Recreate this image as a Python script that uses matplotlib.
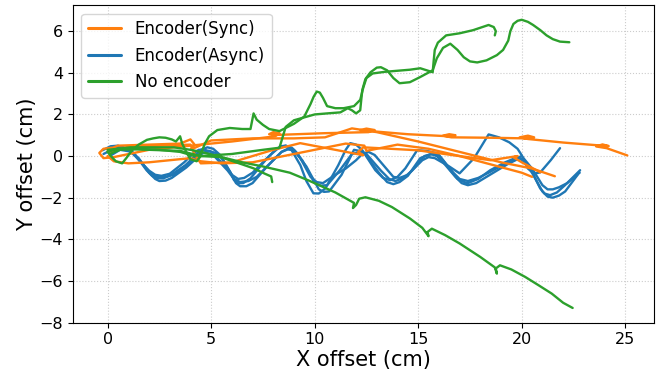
import numpy as np
import matplotlib.pyplot as plt

# trajectories, (x, y) in cm
sync_1 = [(0.2, 0.4), (-0.2, 0.35), (-0.4, 0.15), (-0.2, -0.1), (0.3, -0.05), (2.0, 0.3), (4.0, 0.5),
          (6.0, 0.7), (8.1, 0.95), (8.3, 1.1), (8.0, 1.15), (7.8, 1.05), (8.3, 1.02), (10.5, 1.1),
          (12.6, 1.15), (12.9, 1.25), (12.5, 1.32), (12.2, 1.25), (12.7, 1.2), (14.5, 1.05),
          (16.5, 0.95), (16.8, 1.0), (16.5, 1.05), (16.2, 0.98), (16.6, 0.9), (18.5, 0.88),
          (20.2, 0.85), (20.6, 0.9), (20.3, 0.98), (19.9, 0.9), (20.3, 0.82), (22.0, 0.65),
          (23.9, 0.5), (24.2, 0.48), (23.9, 0.56), (23.6, 0.46), (24.1, 0.38), (25.1, 0.03)]
sync_2 = [(0.0, 0.3), (0.5, 0.5), (2.0, 0.55), (3.5, 0.6), (4.0, 0.8), (4.2, 0.55), (4.0, 0.3),
          (5.0, 0.75), (7.0, 0.85), (9.0, 0.85), (10.5, 0.9), (11.8, 1.33), (13.0, 1.15),
          (15.0, 0.7), (17.0, 0.2), (19.0, -0.3), (20.5, -0.6), (21.6, -0.97)]
sync_3 = [(0.0, 0.0), (0.3, -0.25), (1.0, -0.35), (2.0, -0.3), (3.0, -0.2), (4.0, -0.1), (4.5, -0.25),
          (5.5, -0.35), (7.0, -0.3), (8.5, 0.0), (10.0, 0.3), (11.5, 0.6), (12.4, 0.5),
          (12.5, 0.25), (14.0, 0.55), (15.5, 0.35), (17.0, 0.0), (18.5, -0.4), (20.0, -0.8),
          (20.5, -1.0)]
sync_4 = [(0.1, 0.2), (1.0, 0.45), (2.5, 0.5), (4.0, 0.55), (4.2, 0.1), (4.5, -0.35), (6.0, -0.3),
          (8.0, 0.3), (9.3, 0.62), (11.0, 0.3), (12.35, 0.04), (12.1, 0.2), (12.35, 0.42),
          (14.95, 0.28), (17.0, 0.0), (18.5, -0.2), (19.8, 0.0), (19.6, -0.06), (20.0, -0.3),
          (20.9, -0.78)]

async_1 = [(-0.24, 0.28), (0.14, 0.47), (0.5, 0.5), (0.77, 0.42), (1.1, 0.25), (1.35, 0.04),
           (1.88, -0.68), (2.15, -0.95), (2.41, -1.07), (2.7, -1.07), (3.04, -0.92), (3.76, -0.44),
           (4.15, -0.06), (4.5, 0.3), (4.82, 0.42), (5.1, 0.35), (5.45, 0.04), (5.93, -0.78),
           (6.1, -1.15), (6.27, -1.31), (6.55, -1.3), (6.9, -1.07), (7.62, -0.2), (8.0, 0.2),
           (8.35, 0.47), (8.6, 0.5), (8.83, 0.38), (9.31, -0.44), (9.6, -1.2), (9.94, -1.79),
           (10.2, -1.8), (10.52, -1.55), (11.14, -0.44), (11.5, 0.3), (11.72, 0.62), (12.0, 0.55),
           (12.3, 0.28), (12.93, -0.68), (13.3, -1.05), (13.65, -1.16), (14.0, -1.0),
           (14.38, -0.59), (14.95, 0.28), (15.4, 0.25), (15.92, 0.13), (16.2, -0.2),
           (16.55, -0.68), (16.9, -1.1), (17.37, -1.31), (17.9, -1.1), (18.48, -0.68),
           (19.2, -0.3), (19.78, -0.06), (20.1, -0.2), (20.41, -0.59), (20.89, -1.55),
           (21.1, -1.8), (21.37, -1.88), (21.7, -1.75), (22.09, -1.4), (22.82, -0.68)]
async_2 = [(-0.2, 0.1), (0.3, 0.35), (0.6, 0.4), (0.9, 0.35), (1.5, -0.1), (2.0, -0.8), (2.3, -1.1),
           (2.5, -1.2), (2.8, -1.18), (3.1, -1.05), (3.8, -0.55), (4.3, -0.1), (4.6, 0.15),
           (4.9, 0.25), (5.2, 0.15), (5.5, -0.1), (6.0, -0.9), (6.2, -1.3), (6.4, -1.45),
           (6.7, -1.45), (7.0, -1.3), (7.7, -0.5), (8.4, 0.2), (8.7, 0.32), (9.0, 0.3), (9.6, -0.5),
           (10.2, -1.6), (10.45, -1.72), (10.7, -1.7), (11.3, -0.9), (11.9, 0.3), (12.15, 0.25),
           (12.4, 0.15), (13.1, -0.8), (13.5, -1.25), (13.8, -1.35), (14.1, -1.25), (14.5, -0.95),
           (15.1, -0.1), (15.6, 0.1), (15.9, 0.0), (16.2, -0.3), (16.8, -1.0), (17.1, -1.3),
           (17.4, -1.4), (17.8, -1.3), (18.3, -1.0), (19.3, -0.4), (19.9, -0.1), (20.2, -0.35),
           (20.5, -0.8), (21.0, -1.7), (21.25, -1.95), (21.5, -2.0), (21.8, -1.9), (22.1, -1.7),
           (22.7, -0.9)]
async_3 = [(0.0, 0.2), (0.5, 0.4), (1.1, 0.25), (1.7, -0.4), (2.0, -0.7), (2.3, -0.9), (2.6, -0.95),
           (3.0, -0.85), (3.7, -0.3), (4.1, 0.1), (4.4, 0.3), (4.7, 0.3), (5.0, 0.2), (5.7, -0.5),
           (6.0, -0.9), (6.3, -1.1), (6.6, -1.05), (7.0, -0.8), (7.8, 0.0), (8.2, 0.35), (8.6, 0.5),
           (8.9, 0.4), (9.2, 0.1), (9.8, -1.0), (10.1, -1.25), (10.4, -1.3), (11.0, -0.9),
           (11.5, -0.6), (12.0, -0.2), (12.3, 0.1), (12.6, 0.2), (12.9, 0.05), (13.2, -0.3),
           (13.8, -1.0), (14.1, -1.05), (14.5, -0.9), (15.2, -0.2), (15.5, -0.05), (15.8, -0.1),
           (16.5, -0.5), (17.0, -0.83), (17.7, -0.1), (18.4, 1.04), (18.9, 0.9), (19.4, 0.66),
           (19.8, 0.35), (20.0, 0.04), (20.3, -0.6), (20.6, -0.85), (20.9, -0.78), (21.4, -0.2),
           (21.85, 0.38)]
async_4 = [(0.1, 0.0), (0.6, 0.3), (1.2, 0.2), (1.8, -0.5), (2.1, -0.85), (2.4, -1.0), (2.8, -1.0),
           (3.2, -0.9), (3.9, -0.35), (4.5, 0.15), (4.8, 0.15), (5.1, 0.05), (5.8, -0.7),
           (6.1, -1.1), (6.4, -1.25), (6.8, -1.2), (7.2, -1.0), (8.0, -0.2), (8.4, 0.2), (8.7, 0.35),
           (9.0, 0.25), (9.4, -0.2), (10.0, -1.3), (10.3, -1.42), (10.6, -1.4), (11.2, -0.7),
           (11.8, 0.1), (12.2, 0.2), (12.5, 0.1), (13.2, -0.7), (13.6, -1.1), (13.9, -1.2),
           (14.3, -1.05), (14.7, -0.7), (15.3, 0.0), (15.7, 0.1), (16.0, 0.05), (16.7, -0.8),
           (17.0, -1.1), (17.4, -1.2), (17.9, -1.05), (18.4, -0.8), (19.5, -0.2), (20.0, 0.0),
           (20.5, -0.6), (21.0, -1.4), (21.25, -1.6), (21.5, -1.6), (21.8, -1.5), (22.2, -1.3),
           (22.8, -0.8)]

noenc_1 = [(0.0, 0.2), (0.5, 0.35), (1.1, 0.42), (2.2, 0.42), (3.2, 0.42), (4.0, 0.3), (4.6, 0.18),
           (5.3, 0.0), (5.9, -0.2), (6.5, -0.4), (7.05, -0.59), (7.6, -0.85), (7.9, -0.98),
           (7.95, -1.25)]
noenc_2 = [(0.0, 0.2), (0.2, -0.05), (0.4, -0.25), (0.7, -0.35), (0.9, -0.1), (1.2, 0.3), (1.5, 0.55),
           (1.9, 0.78), (2.2, 0.85), (2.5, 0.9), (2.8, 0.88), (3.1, 0.8), (3.3, 0.7), (3.5, 0.95),
           (3.6, 0.6), (3.7, 0.4), (3.85, 0.1), (4.0, -0.15), (4.3, -0.25), (4.5, 0.0),
           (5.5, -0.05), (6.5, -0.3), (7.5, -0.5), (8.8, -0.8), (9.7, -1.17), (11.0, -1.75),
           (11.9, -2.25), (11.85, -2.5), (12.0, -2.35), (12.15, -2.05), (12.45, -1.98),
           (13.1, -2.15), (13.73, -2.45), (14.6, -3.0), (15.2, -3.45), (15.5, -3.85),
           (15.45, -3.65), (15.66, -3.49), (16.3, -3.8), (17.0, -4.2), (18.0, -4.85),
           (18.7, -5.35), (18.8, -5.65), (18.75, -5.4), (18.95, -5.25), (19.5, -5.45),
           (20.17, -5.81), (20.8, -6.2), (21.45, -6.61), (22.0, -7.05), (22.46, -7.3)]
noenc_3 = [(0.1, 0.1), (0.6, 0.3), (1.5, 0.35), (2.5, 0.3), (3.5, 0.2), (4.2, 0.0), (4.5, 0.1),
           (4.7, 0.6), (4.9, 0.95), (5.3, 1.25), (5.9, 1.35), (6.5, 1.3), (6.9, 1.3), (7.0, 1.8),
           (7.05, 2.05), (7.2, 1.75), (7.5, 1.5), (7.8, 1.3), (8.3, 1.2), (9.0, 1.55), (9.5, 1.9),
           (9.8, 2.5), (9.95, 2.85), (10.1, 3.1), (10.25, 3.05), (10.4, 2.8), (10.6, 2.4),
           (11.0, 2.3), (11.4, 2.3), (11.9, 2.4), (12.2, 2.7), (12.35, 3.3), (12.5, 3.75),
           (12.8, 3.97), (13.4, 4.05), (14.0, 4.1), (14.6, 4.15), (15.1, 4.22), (15.7, 4.03),
           (15.75, 4.6), (15.8, 5.1), (15.95, 5.45), (16.35, 5.8), (17.0, 5.9), (17.65, 6.05),
           (18.1, 6.2), (18.4, 6.3), (18.65, 6.2), (18.75, 6.0), (18.7, 5.8)]
noenc_4 = [(0.0, 0.3), (0.5, 0.35), (2.0, 0.3), (3.5, 0.25), (4.5, 0.0), (6.0, 0.1), (7.5, 0.3),
           (8.3, 0.4), (8.45, 0.9), (8.6, 1.4), (9.0, 1.72), (10.0, 2.0), (10.6, 2.05),
           (11.24, 2.1), (11.6, 2.3), (11.8, 2.2), (12.0, 2.05), (12.2, 2.2), (12.25, 2.7),
           (12.3, 3.17), (12.45, 3.7), (12.7, 4.03), (13.0, 4.25), (13.2, 4.27), (13.5, 4.12),
           (13.8, 3.75), (14.1, 3.5), (14.6, 3.55), (15.1, 3.8), (15.7, 4.12), (15.9, 4.7),
           (16.2, 5.2), (16.55, 5.4), (16.9, 5.1), (17.2, 4.75), (17.5, 4.55), (17.85, 4.5),
           (18.3, 4.6), (18.8, 4.85), (19.1, 5.1), (19.35, 5.55), (19.45, 6.0), (19.6, 6.35),
           (19.8, 6.5), (20.0, 6.55), (20.3, 6.45), (20.55, 6.3), (20.9, 6.05), (21.2, 5.8),
           (21.5, 5.62), (21.85, 5.5), (22.3, 5.47)]

groups = [
    ('Encoder(Async)', 'tab:blue', [async_1, async_2, async_3, async_4]),
    ('Encoder(Sync)', 'tab:orange', [sync_1, sync_2, sync_3, sync_4]),
    ('No encoder', 'tab:green', [noenc_1, noenc_2, noenc_3, noenc_4]),
]

fig = plt.figure(figsize=(6.57, 3.72), dpi=100)
ax = fig.add_axes([0.111, 0.133, 0.884, 0.853])

handles = {}
for label, color, runs in groups:
    for run in runs:
        pts = np.array(run)
        line, = ax.plot(pts[:, 0], pts[:, 1], color=color, lw=1.7,
                        solid_joinstyle='round', solid_capstyle='round')
    handles[label] = line

ax.set_ylim(-8, 7.25)
ax.set_xticks([0, 5, 10, 15, 20, 25])
ax.set_yticks([-8, -6, -4, -2, 0, 2, 4, 6])
ax.grid(True, linestyle=':', color='#cccccc', lw=0.8)
ax.tick_params(labelsize=11.5)
ax.set_xlabel('X offset (cm)', fontsize=15, labelpad=2)
ax.set_ylabel('Y offset (cm)', fontsize=15, labelpad=2)

order = ['Encoder(Sync)', 'Encoder(Async)', 'No encoder']
leg = ax.legend([handles[k] for k in order], order, loc='upper left', fontsize=12)
for h in leg.get_lines():
    h.set_linewidth(2.2)

fig.savefig('out.png', dpi=100)
